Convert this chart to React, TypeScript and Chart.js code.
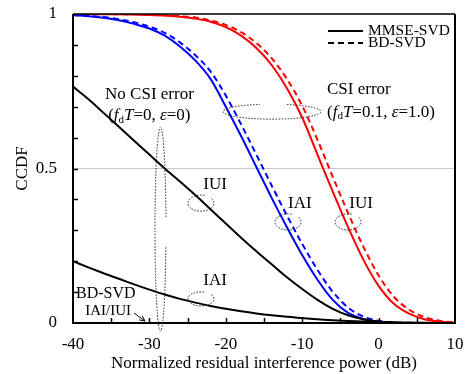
import React, { useEffect, useRef } from 'react';
import { Chart, registerables } from 'chart.js';

Chart.register(...registerables);

// ---- data ----
const xDb = [-40, -38, -36, -34, -32, -30, -28, -26, -24, -22, -20, -18, -16, -14, -12, -10, -8, -6, -4, -2, 0, 2, 4, 6, 8, 10];

// No CSI error, MMSE-SVD
const noCsiIUI = [0.765, 0.725, 0.68, 0.635, 0.59, 0.545, 0.5, 0.458, 0.414, 0.368, 0.322, 0.276, 0.232, 0.19, 0.148, 0.11, 0.075, 0.046, 0.025, 0.012, 0.005, 0.002, 0.0008, 0.0003, 0.0001, 0];
const noCsiIAI = [0.2, 0.18, 0.161, 0.143, 0.125, 0.108, 0.092, 0.078, 0.066, 0.055, 0.046, 0.038, 0.031, 0.025, 0.02, 0.016, 0.012, 0.009, 0.0065, 0.0045, 0.003, 0.002, 0.0012, 0.0007, 0.0004, 0.0002];

// CSI error, IAI (blue)
const csiIAImmse = [0.996, 0.993, 0.988, 0.98, 0.968, 0.953, 0.93, 0.895, 0.85, 0.79, 0.7, 0.605, 0.505, 0.405, 0.31, 0.22, 0.14, 0.075, 0.033, 0.013, 0.004, 0.001, 0.0002, 0, 0, 0];
const csiIAIbd = [0.997, 0.994, 0.99, 0.983, 0.973, 0.959, 0.939, 0.908, 0.867, 0.814, 0.736, 0.643, 0.545, 0.445, 0.348, 0.256, 0.172, 0.101, 0.05, 0.021, 0.007, 0.002, 0.0005, 0.0001, 0, 0];

// CSI error, IUI (red)
const csiIUImmse = [1.0, 1.0, 0.999, 0.999, 0.998, 0.997, 0.995, 0.991, 0.985, 0.975, 0.958, 0.93, 0.89, 0.835, 0.76, 0.665, 0.545, 0.425, 0.31, 0.205, 0.12, 0.062, 0.03, 0.012, 0.004, 0.001];
const csiIUIbd = [1.0, 1.0, 1.0, 0.999, 0.999, 0.998, 0.996, 0.993, 0.989, 0.979, 0.965, 0.941, 0.906, 0.857, 0.79, 0.703, 0.593, 0.473, 0.356, 0.247, 0.154, 0.085, 0.043, 0.019, 0.007, 0.002];

const xLabeledTicks = [-40, -30, -20, -10, 0, 10];
const yLabeledTicks = [0, 0.5, 1];

const legendItems = ['MMSE-SVD', 'BD-SVD'];

const SERIF = '"Liberation Serif", "Times New Roman", serif';

// annotation texts (positions in data coordinates)
const textNotes = [
  { t: 'No CSI error', x: -35.8, y: 0.738, size: 17, align: 'left' },
  { t: 'CSI error', x: -6.75, y: 0.756, size: 17, align: 'left' },
  { t: 'IUI', x: -21.4, y: 0.447, size: 17, align: 'center' },
  { t: 'IAI', x: -10.3, y: 0.388, size: 17, align: 'center' },
  { t: 'IUI', x: -2.3, y: 0.388, size: 17, align: 'center' },
  { t: 'IAI', x: -21.4, y: 0.139, size: 17, align: 'center' },
  { t: 'BD-SVD', x: -39.6, y: 0.095, size: 16, align: 'left' },
  { t: 'IAI/IUI', x: -38.4, y: 0.039, size: 15, align: 'left' },
];

// rich text lines: [text, style] where style: n normal, i italic, s subscript
const richNotes = [
  { x: -35.4, y: 0.67, parts: [['(', 'n'], ['f', 'i'], ['d', 's'], ['T', 'i'], ['=0, ', 'n'], ['ε', 'i'], ['=0)', 'n']] },
  { x: -6.75, y: 0.681, parts: [['(', 'n'], ['f', 'i'], ['d', 's'], ['T', 'i'], ['=0.1, ', 'n'], ['ε', 'i'], ['=1.0)', 'n']] },
];

// dotted ellipses: center (data), radii (data), optional gap angles
const ellipses = [
  { x: -28.55, y: 0.304, rx: 0.72, ry: 0.33, a0: 0.18, a1: Math.PI * 2 - 0.11 },
  { x: -13.95, y: 0.684, rx: 6.41, ry: 0.0243, a0: -1.26, a1: Math.PI * 2 - 1.818 },
  { x: -23.25, y: 0.388, rx: 1.7, ry: 0.026, a0: -0.6, a1: Math.PI * 2 - 1.2 },
  { x: -23.25, y: 0.078, rx: 1.7, ry: 0.0227, a0: -0.6, a1: Math.PI * 2 - 1.2 },
  { x: -11.86, y: 0.327, rx: 1.7, ry: 0.026, a0: -0.6, a1: Math.PI * 2 - 1.2 },
  { x: -4.0, y: 0.327, rx: 1.7, ry: 0.026, a0: -0.6, a1: Math.PI * 2 - 1.2 },
];

const arrowNote = { x0: -32.0, y0: 0.032, x1: -30.58, y1: 0.0065 };

const overlayPlugin = {
  id: 'overlay',
  afterDraw(chart: any) {
    const { ctx, chartArea: a, scales } = chart;
    const xs = scales.x;
    const ys = scales.y;
    const px = (v: number) => xs.getPixelForValue(v);
    const py = (v: number) => ys.getPixelForValue(v);
    ctx.save();

    // frame
    ctx.strokeStyle = '#000';
    ctx.setLineDash([]);
    ctx.lineWidth = 2;
    ctx.beginPath();
    ctx.moveTo(a.left, a.top);
    ctx.lineTo(a.left, a.bottom);
    ctx.lineTo(a.right, a.bottom);
    ctx.lineTo(a.right, a.top);
    ctx.stroke();
    ctx.lineWidth = 1.3;
    ctx.beginPath();
    ctx.moveTo(a.left, a.top);
    ctx.lineTo(a.right, a.top);
    ctx.stroke();

    // inward ticks
    ctx.lineWidth = 1.5;
    for (let i = 1; i < 10; i++) {
      const yy = Math.round(py(i / 10)) + 0.5;
      ctx.beginPath();
      ctx.moveTo(a.left, yy);
      ctx.lineTo(a.left + 5, yy);
      ctx.stroke();
    }
    for (let v = -35; v < 10; v += 5) {
      const xx = Math.round(px(v)) + 0.5;
      ctx.beginPath();
      ctx.moveTo(xx, a.bottom);
      ctx.lineTo(xx, a.bottom - 5);
      ctx.stroke();
    }

    // legend
    const lx0 = a.right - 127;
    const lx1 = a.right - 92;
    const rows = [a.top + 17, a.top + 29];
    ctx.lineWidth = 2;
    legendItems.forEach((lab, i) => {
      ctx.setLineDash(i === 0 ? [] : [6, 4]);
      ctx.beginPath();
      ctx.moveTo(lx0, rows[i]);
      ctx.lineTo(lx1, rows[i]);
      ctx.stroke();
      ctx.setLineDash([]);
      ctx.fillStyle = '#000';
      ctx.font = `15.5px ${SERIF}`;
      ctx.textAlign = 'left';
      ctx.textBaseline = 'middle';
      ctx.fillText(lab, lx1 + 5, rows[i]);
    });

    // dotted ellipses
    ctx.strokeStyle = '#222';
    ctx.lineWidth = 1;
    ctx.setLineDash([1.5, 1.5]);
    ellipses.forEach((e) => {
      const cx = px(e.x);
      const cy = py(e.y);
      const rx = Math.abs(px(e.x + e.rx) - cx);
      const ry = Math.abs(py(e.y + e.ry) - cy);
      ctx.beginPath();
      ctx.ellipse(cx, cy, rx, ry, 0, e.a0, e.a1);
      ctx.stroke();
    });
    ctx.setLineDash([]);

    // arrow
    const ax0 = px(arrowNote.x0), ay0 = py(arrowNote.y0);
    const ax1 = px(arrowNote.x1), ay1 = py(arrowNote.y1);
    ctx.strokeStyle = '#000';
    ctx.lineWidth = 1;
    ctx.beginPath();
    ctx.moveTo(ax0, ay0);
    ctx.lineTo(ax1, ay1);
    const ang = Math.atan2(ay1 - ay0, ax1 - ax0);
    const hl = 6;
    ctx.moveTo(ax1, ay1);
    ctx.lineTo(ax1 - hl * Math.cos(ang - 0.45), ay1 - hl * Math.sin(ang - 0.45));
    ctx.moveTo(ax1, ay1);
    ctx.lineTo(ax1 - hl * Math.cos(ang + 0.45), ay1 - hl * Math.sin(ang + 0.45));
    ctx.stroke();

    // texts
    ctx.fillStyle = '#000';
    ctx.textBaseline = 'middle';
    textNotes.forEach((n) => {
      ctx.font = `${n.size}px ${SERIF}`;
      ctx.textAlign = n.align as CanvasTextAlign;
      ctx.fillText(n.t, px(n.x), py(n.y));
    });
    ctx.textAlign = 'left';
    richNotes.forEach((r) => {
      let cx = px(r.x);
      const cy = py(r.y);
      r.parts.forEach(([s, st]) => {
        if (st === 's') {
          ctx.font = `11px ${SERIF}`;
          ctx.fillText(s, cx, cy + 4);
        } else {
          ctx.font = `${st === 'i' ? 'italic ' : ''}17px ${SERIF}`;
          ctx.fillText(s, cx, cy);
        }
        cx += ctx.measureText(s).width;
      });
    });

    ctx.restore();
  },
};

export default function App() {
  const ref = useRef<HTMLCanvasElement | null>(null);

  useEffect(() => {
    if (!ref.current) return;
    const mk = (arr: number[]) => xDb.map((x, i) => ({ x, y: arr[i] }));
    const base = { pointRadius: 0, borderWidth: 2, fill: false, cubicInterpolationMode: 'monotone' as const };
    const chart = new Chart(ref.current, {
      type: 'line',
      data: {
        datasets: [
          { ...base, label: 'No CSI IUI', data: mk(noCsiIUI), borderColor: '#000' },
          { ...base, label: 'No CSI IAI', data: mk(noCsiIAI), borderColor: '#000' },
          { ...base, label: 'CSI IAI MMSE', data: mk(csiIAImmse), borderColor: '#0000ff' },
          { ...base, label: 'CSI IAI BD', data: mk(csiIAIbd), borderColor: '#0000ff', borderDash: [6, 4] },
          { ...base, label: 'CSI IUI MMSE', data: mk(csiIUImmse), borderColor: '#ff0000' },
          { ...base, label: 'CSI IUI BD', data: mk(csiIUIbd), borderColor: '#ff0000', borderDash: [6, 4] },
        ],
      },
      options: {
        animation: false,
        responsive: false,
        maintainAspectRatio: false,
        devicePixelRatio: 1,
        layout: { padding: { left: 0, right: 10, top: 14, bottom: 0 } },
        plugins: { legend: { display: false }, tooltip: { enabled: false } },
        scales: {
          x: {
            type: 'linear',
            min: -40,
            max: 10,
            border: { display: false },
            grid: { display: false, drawTicks: false },
            ticks: {
              stepSize: 5,
              autoSkip: false,
              maxRotation: 0,
              padding: 11,
              color: '#000',
              font: { family: SERIF, size: 17 },
              callback: (v: any) => (xLabeledTicks.includes(Number(v)) ? String(v) : ''),
            },
            title: {
              display: true,
              text: 'Normalized residual interference power (dB)',
              color: '#000',
              font: { family: SERIF, size: 17 },
              padding: { top: 0, bottom: 0 },
            },
            afterFit: (s: any) => {
              s.height = 51;
              s.paddingLeft = 0;
              s.paddingRight = 0;
            },
          },
          y: {
            min: 0,
            max: 1,
            border: { display: false },
            grid: {
              drawTicks: false,
              color: (c: any) => (c.tick && Math.abs(c.tick.value - 0.5) < 1e-6 ? '#c8c8c8' : 'rgba(0,0,0,0)'),
              lineWidth: 1,
            },
            ticks: {
              stepSize: 0.1,
              autoSkip: false,
              padding: 16,
              color: '#000',
              font: { family: SERIF, size: 17 },
              callback: (v: any) => {
                const n = Math.round(Number(v) * 10) / 10;
                return yLabeledTicks.includes(n) ? String(n) : '';
              },
            },
            title: {
              display: true,
              text: 'CCDF',
              color: '#000',
              font: { family: SERIF, size: 17 },
              padding: { top: 12, bottom: 0 },
            },
            afterFit: (s: any) => {
              s.width = 73;
              s.paddingTop = 0;
              s.paddingBottom = 0;
            },
          },
        },
      },
      plugins: [overlayPlugin],
    });
    return () => chart.destroy();
  }, []);

  return (
    <div style={{ position: 'absolute', left: 0, top: 0, width: 465, height: 374, background: '#fff' }}>
      <canvas ref={ref} width={465} height={374} style={{ display: 'block' }} />
    </div>
  );
}
